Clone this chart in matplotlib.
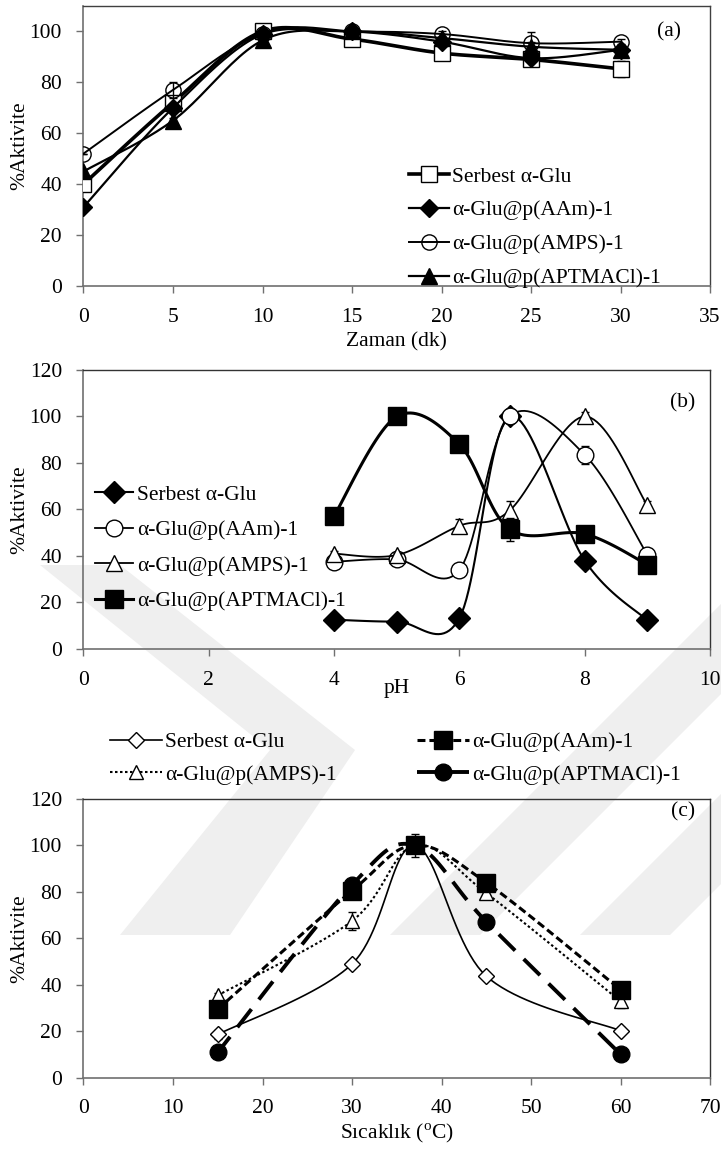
import numpy as np
import matplotlib
matplotlib.use("Agg")
import matplotlib.pyplot as plt
from matplotlib.patches import Polygon

plt.rcParams["font.family"] = ["Liberation Serif", "DejaVu Serif"]
plt.rcParams["mathtext.fontset"] = "custom"
plt.rcParams["mathtext.rm"] = "Liberation Serif"
plt.rcParams["font.size"] = 15.5

# ── (a) süre ──
zaman = [0, 5, 10, 15, 20, 25, 30]
a_serbest = [40, 72, 100, 97, 91.5, 89, 85.3]
a_aam = [31, 70, 99, 100, 96, 89.5, 92.8]
a_amps = [52, 77, 99, 100, 99, 95.4, 96]
a_aptmacl = [45, 65, 96.5, 100, 97.4, 94, 92.8]
a_serbest_err = [0, 2, 1, 1, 2, 1, 3]
a_aam_err = [0, 1, 0, 0, 1, 1, 1]
a_amps_err = [0, 3, 0, 0, 1, 4.5, 1]
a_aptmacl_err = [0, 1, 0, 0, 1, 2, 1]

# ── (b) pH ──
ph = [4, 5, 6, 6.8, 8, 9]
b_serbest = [12.6, 11.8, 13.3, 100, 38, 12.3]
b_aam = [37.5, 38.5, 34, 100, 83.5, 40.5]
b_amps = [41, 40.4, 53, 59.5, 100, 61.8]
b_aptmacl = [57.3, 100, 88, 51.5, 49.5, 36.3]
b_serbest_err = [0, 0, 0, 3, 1, 0]
b_aam_err = [1, 1, 2, 3, 4, 1]
b_amps_err = [1, 1, 3, 4, 2, 2]
b_aptmacl_err = [0, 0, 0, 5, 2, 0]

# ── (c) sıcaklık ──
sicaklik = [15, 30, 37, 45, 60]
c_serbest = [18.7, 49, 100, 43.8, 20.3]
c_aam = [29.6, 80.5, 100, 84, 38]
c_amps = [35.5, 67.5, 100, 79.5, 33]
c_aptmacl = [11, 83, 100, 67.2, 10.2]
c_serbest_err = [2, 1, 0, 1, 1.5]
c_aam_err = [1, 2, 5, 1, 1]
c_amps_err = [1, 4, 3, 2, 3]
c_aptmacl_err = [1, 1, 1, 1, 1]

etiketler = ["Serbest α-Glu", "α-Glu@p(AAm)-1", "α-Glu@p(AMPS)-1", "α-Glu@p(APTMACl)-1"]

N_SEG = 24
GRI = "#707070"
KOYU = "#333333"
W_PX, H_PX = 721, 1155


def yumusat(x, y, n=N_SEG):
    """Excel tarzı düzgün çizgi (Catmull-Rom -> Bezier)."""
    p = np.column_stack([x, y]).astype(float)
    parca = []
    t = np.linspace(0, 1, n)[:, None]
    for i in range(len(p) - 1):
        p0 = p[i - 1] if i > 0 else p[i]
        p1, p2 = p[i], p[i + 1]
        p3 = p[i + 2] if i + 2 < len(p) else p[i + 1]
        c1 = p1 + (p2 - p0) / 6
        c2 = p2 - (p3 - p1) / 6
        seg = (1 - t) ** 3 * p1 + 3 * (1 - t) ** 2 * t * c1 + 3 * (1 - t) * t ** 2 * c2 + t ** 3 * p2
        parca.append(seg if i == 0 else seg[1:])
    s = np.vstack(parca)
    return s[:, 0], s[:, 1]


def seri(ax, x, y, err, label, lw=1.2, ls="-", marker="o", ms=10, mfc="black", z=3):
    sx, sy = yumusat(x, y)
    idx = [i * (N_SEG - 1) for i in range(len(x))]
    ax.errorbar(x, y, yerr=err, fmt="none", ecolor="black", elinewidth=1, capsize=3, capthick=1, zorder=z - 0.5)
    ax.plot(sx, sy, color="black", lw=lw, ls=ls, marker=marker, markevery=idx, ms=ms,
            mfc=mfc, mec="black", mew=1, label=label, zorder=z)


def eksen_ayarla(ax, xlim, xticks, ylim, yticks):
    ax.set_xlim(*xlim)
    ax.set_ylim(*ylim)
    ax.set_xticks(xticks)
    ax.set_yticks(yticks)
    ax.tick_params(direction="out", length=5, width=1, color=GRI, pad=10.5, labelsize=15.5)
    for k in ("left", "bottom"):
        ax.spines[k].set_color(GRI)
        ax.spines[k].set_linewidth(1.2)
    for k in ("top", "right"):
        ax.spines[k].set_color(KOYU)
        ax.spines[k].set_linewidth(1.0)
    ax.set_facecolor("none")
    ax.set_ylabel("%Aktivite", va="center")
    ax.yaxis.set_label_coords(-0.101, 0.5)


def px(pts):
    return [(x / W_PX, 1 - y / H_PX) for x, y in pts]


fig = plt.figure(figsize=(7.21, 11.55), dpi=100)

# arka plandaki soluk filigran
filigran = [
    [(40, 565), (120, 565), (355, 750), (230, 935), (120, 935), (270, 750)],
    [(390, 935), (480, 935), (850, 565), (760, 565)],
    [(580, 935), (670, 935), (1040, 565), (950, 565)],
]
for poly in filigran:
    fig.patches.append(Polygon(px(poly), closed=True, transform=fig.transFigure,
                               facecolor="#efefef", edgecolor="none", zorder=-5))

L, W = 0.1158, 0.869

# (a)
ax1 = fig.add_axes([L, 0.7524, W, 0.2424])
seri(ax1, zaman, a_serbest, a_serbest_err, etiketler[0], lw=2.6, marker="s", ms=11, mfc="white", z=3)
seri(ax1, zaman, a_aam, a_aam_err, etiketler[1], lw=1.6, marker="D", ms=9, z=4)
seri(ax1, zaman, a_amps, a_amps_err, etiketler[2], lw=1.4, marker="o", ms=11, mfc="none", z=5)
seri(ax1, zaman, a_aptmacl, a_aptmacl_err, etiketler[3], lw=1.6, marker="^", ms=11, z=6)
eksen_ayarla(ax1, (0, 35), range(0, 36, 5), (0, 110), range(0, 101, 20))
ax1.spines["top"].set_color("#404040")
ax1.spines["right"].set_color("#404040")
ax1.set_xlabel("Zaman (dk)", va="center")
ax1.xaxis.set_label_coords(0.5, -0.198)
ax1.text(0.935, 0.907, "(a)", transform=ax1.transAxes, ha="center", va="center")
ax1.legend(loc="upper left", bbox_to_anchor=(0.503, 0.465), frameon=False, borderpad=0,
           handlelength=1.85, handletextpad=0.15, labelspacing=0.64)

# (b)
ax2 = fig.add_axes([L, 0.4381, W, 0.2416])
seri(ax2, ph, b_serbest, b_serbest_err, etiketler[0], lw=1.5, marker="D", ms=11, z=3)
seri(ax2, ph, b_aam, b_aam_err, etiketler[1], lw=1.3, marker="o", ms=12, mfc="white", z=4)
seri(ax2, ph, b_amps, b_amps_err, etiketler[2], lw=1.3, marker="^", ms=11, mfc="white", z=5)
seri(ax2, ph, b_aptmacl, b_aptmacl_err, etiketler[3], lw=2.2, marker="s", ms=12.5, z=6)
eksen_ayarla(ax2, (0, 10), range(0, 11, 2), (0, 120), range(0, 121, 20))
ax2.set_xlabel("pH", va="center")
ax2.xaxis.set_label_coords(0.5, -0.14)
ax2.text(0.957, 0.882, "(b)", transform=ax2.transAxes, ha="center", va="center")
ax2.legend(loc="upper left", bbox_to_anchor=(0.001, 0.628), frameon=False, borderpad=0,
           handlelength=1.77, handletextpad=0.19, labelspacing=0.72)

# (c)
ax3 = fig.add_axes([L, 0.0667, W, 0.2416])
seri(ax3, sicaklik, c_serbest, c_serbest_err, etiketler[0], lw=1.2, marker="D", ms=8, mfc="white", z=3)
seri(ax3, sicaklik, c_amps, c_amps_err, etiketler[2], lw=1.5, ls=(0, (1.2, 1.2)), marker="^", ms=10, mfc="white", z=4)
seri(ax3, sicaklik, c_aam, c_aam_err, etiketler[1], lw=2.2, ls=(0, (2.6, 1.3)), marker="s", ms=13.5, z=5)
seri(ax3, sicaklik, c_aptmacl, c_aptmacl_err, etiketler[3], lw=2.8, ls=(0.8, (5.9, 3.1)), marker="o", ms=12, z=6)
eksen_ayarla(ax3, (0, 70), range(0, 71, 10), (0, 120), range(0, 121, 20))
ax3.set_xlabel("Sıcaklık ($^{\\mathrm{o}}$C)", va="center")
ax3.xaxis.set_label_coords(0.5, -0.197)
ax3.text(0.957, 0.953, "(c)", transform=ax3.transAxes, ha="center", va="center")
h, l = ax3.get_legend_handles_labels()
sira = {lab: han for han, lab in zip(h, l)}
ortak = dict(loc="upper left", frameon=False, borderpad=0, handlelength=2.42,
             handletextpad=0.14, labelspacing=0.57)
leg1 = ax3.legend([sira[etiketler[0]], sira[etiketler[2]]], [etiketler[0], etiketler[2]],
                  bbox_to_anchor=(0.0256, 1.2775), **ortak)
ax3.add_artist(leg1)
ax3.legend([sira[etiketler[1]], sira[etiketler[3]]], [etiketler[1], etiketler[3]],
           bbox_to_anchor=(0.515, 1.2775), **ortak)

fig.savefig("out.png", dpi=100)
